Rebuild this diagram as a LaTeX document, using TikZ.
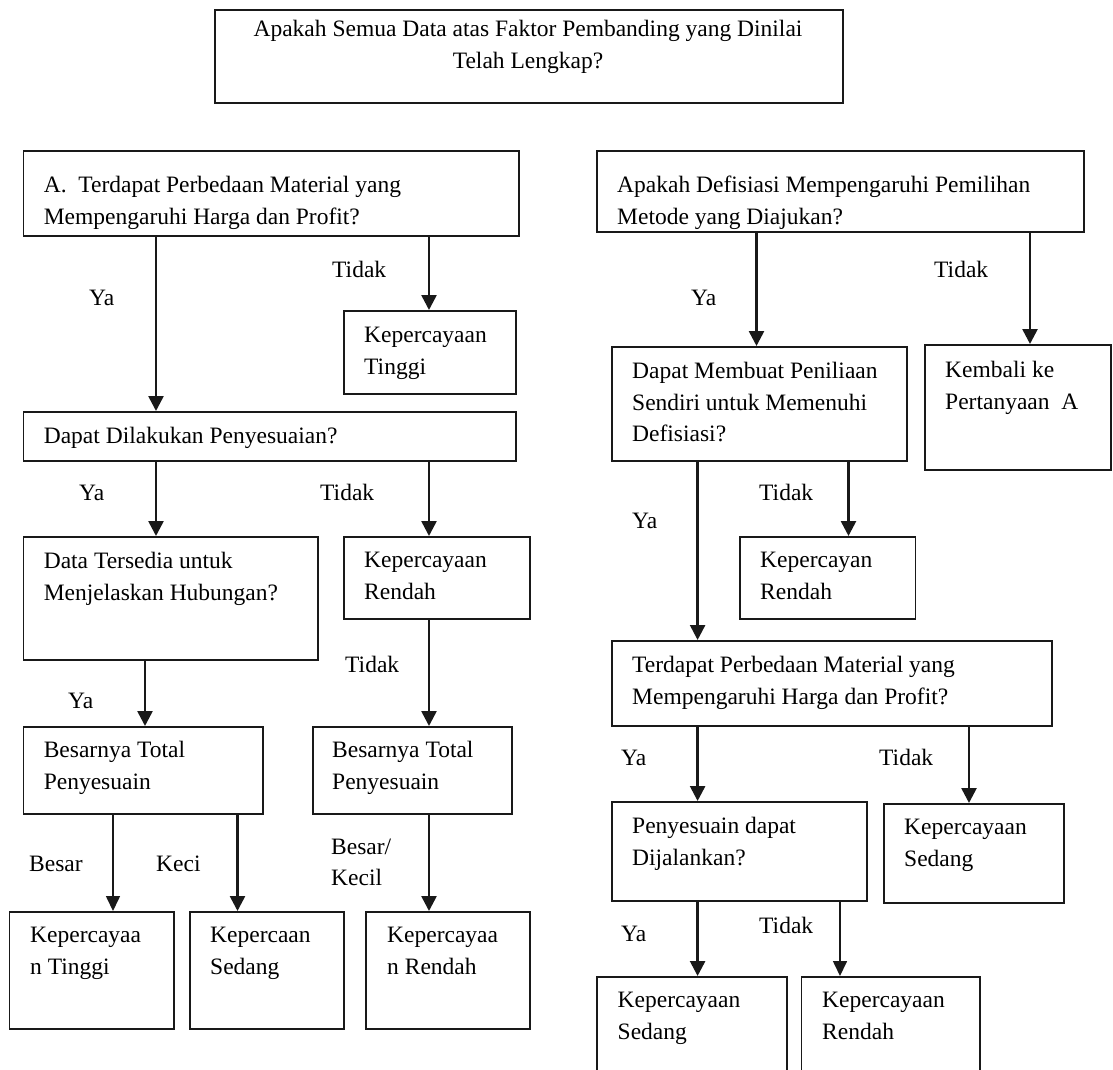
\documentclass[tikz,border=0pt]{standalone}
\usepackage{fontspec}
\setmainfont{Liberation Serif}
\usetikzlibrary{arrows.meta}
\begin{document}
\begin{tikzpicture}[x=1pt,y=-1pt,
  box/.style={draw=black!90, line width=1.7pt, rectangle, inner sep=0pt, anchor=north west},
  txt/.style={inner sep=0pt, anchor=north west, align=left, font=\fontsize{23.5}{31.6}\selectfont},
  lbl/.style={inner sep=0pt, anchor=base west, font=\fontsize{23.5}{31.6}\selectfont},
  arr/.style={draw=black!90, line width=2.6pt, -{Triangle[width=15pt,length=15pt]}},
  tarr/.style={draw=black!90, line width=1.6pt, -{Triangle[width=14pt,length=15pt]}}]
\useasboundingbox (0,0) rectangle (1113,1070);
\clip (0,0) rectangle (1113,1070);

% boxes
\node[box, minimum width=628pt, minimum height=93pt] (T) at (214,9) {};
\node[box, minimum width=495.5pt, minimum height=85pt] (A) at (22.5,150) {};
\node[box, minimum width=172pt, minimum height=83pt] (KT) at (343,310) {};
\node[box, minimum width=492.5pt, minimum height=49pt] (D1) at (22.5,411) {};
\node[box, minimum width=294.5pt, minimum height=123pt] (DT) at (22.5,536) {};
\node[box, minimum width=186pt, minimum height=82pt] (KR1) at (343,536) {};
\node[box, minimum width=239.5pt, minimum height=87pt] (B1) at (22.5,726) {};
\node[box, minimum width=199pt, minimum height=87pt] (B2) at (312,726) {};
\node[box, minimum width=164.4pt, minimum height=117pt] (L1) at (8.6,911) {};
\node[box, minimum width=154pt, minimum height=117pt] (L2) at (189,911) {};
\node[box, minimum width=164pt, minimum height=117pt] (L3) at (365,911) {};
\node[box, minimum width=487pt, minimum height=81pt] (R) at (596,150) {};
\node[box, minimum width=295pt, minimum height=114pt] (DM) at (611,346) {};
\node[box, minimum width=186pt, minimum height=125pt] (KB) at (924,344) {};
\node[box, minimum width=175.5pt, minimum height=82pt] (KR2) at (739,536) {};
\node[box, minimum width=440pt, minimum height=85pt] (TP) at (611,640) {};
\node[box, minimum width=255pt, minimum height=99pt] (PD) at (611,801) {};
\node[box, minimum width=180pt, minimum height=99pt] (KS) at (883,803) {};
\node[box, minimum width=190pt, minimum height=110pt] (BS) at (596,976) {};
\node[box, minimum width=178.5pt, minimum height=110pt] (BR) at (800.5,976) {};

% box texts
\node[txt, anchor=north, align=center] (tT) at (528,20.2) {Apakah Semua Data atas Faktor Pembanding yang Dinilai\\Telah Lengkap?};
\node[txt] (tA) at (43.6,176.2) {A.\ \ Terdapat Perbedaan Material yang\\Mempengaruhi Harga dan Profit?};
\node[txt] (tKT) at (364,327.2) {Kepercayaan\\Tinggi};
\node[txt] (tD1) at (43.6,427.2) {Dapat Dilakukan Penyesuaian?};
\node[txt] (tDT) at (43.6,552.2) {Data Tersedia untuk\\Menjelaskan Hubungan?};
\node[txt] (tKR1) at (364,552.2) {Kepercayaan\\Rendah};
\node[txt] (tB1) at (43.6,741.2) {Besarnya Total\\Penyesuain};
\node[txt] (tB2) at (332,741.2) {Besarnya Total\\Penyesuain};
\node[txt] (tL1) at (30,927.2) {Kepercayaa\\n Tinggi};
\node[txt] (tL2) at (210,927.2) {Kepercaan\\Sedang};
\node[txt] (tL3) at (387,927.2) {Kepercayaa\\n Rendah};
\node[txt] (tR) at (617,176.2) {Apakah Defisiasi Mempengaruhi Pemilihan\\Metode yang Diajukan?};
\node[txt] (tDM) at (632,362.2) {Dapat Membuat Peniliaan\\Sendiri untuk Memenuhi\\Defisiasi?};
\node[txt] (tKB) at (945,361.2) {Kembali ke\\Pertanyaan\ \ A};
\node[txt] (tKR2) at (760,552.2) {Kepercayan\\Rendah};
\node[txt] (tTP) at (632,656.2) {Terdapat Perbedaan Material yang\\Mempengaruhi Harga dan Profit?};
\node[txt] (tPD) at (632,817.2) {Penyesuain dapat\\Dijalankan?};
\node[txt] (tKS) at (904,819.2) {Kepercayaan\\Sedang};
\node[txt] (tBS) at (617.5,992.2) {Kepercayaan\\Sedang};
\node[txt] (tBR) at (822,992.2) {Kepercayaan\\Rendah};

% connectors left
\draw[arr] (156,0 |- A.south) -- (156,0 |- D1.north);
\draw[arr] (429,0 |- A.south) -- (429,0 |- KT.north);
\draw[arr] (156,0 |- D1.south) -- (156,0 |- DT.north);
\draw[arr] (429,0 |- D1.south) -- (429,0 |- KR1.north);
\draw[arr] (145,0 |- DT.south) -- (145,0 |- B1.north);
\draw[arr] (429,0 |- KR1.south) -- (429,0 |- B2.north);
\draw[tarr] (113,0 |- B1.south) -- (113,0 |- L1.north);
\draw[arr] (237.5,0 |- B1.south) -- (237.5,0 |- L2.north);
\draw[arr] (429,0 |- B2.south) -- (429,0 |- L3.north);
% connectors right
\draw[arr] (756.5,0 |- R.south) -- (756.5,0 |- DM.north);
\draw[arr] (1030,0 |- R.south) -- (1030,0 |- KB.north);
\draw[arr] (697.6,0 |- DM.south) -- (697.6,0 |- TP.north);
\draw[arr] (848.5,0 |- DM.south) -- (848.5,0 |- KR2.north);
\draw[arr] (697.6,0 |- TP.south) -- (697.6,0 |- PD.north);
\draw[arr] (969,0 |- TP.south) -- (969,0 |- KS.north);
\draw[arr] (697.6,0 |- PD.south) -- (697.6,0 |- BS.north);
\draw[tarr] (840,0 |- PD.south) -- (840,0 |- BR.north);

% labels
\node[lbl] (l1) at (89,305) {Ya};
\node[lbl] (l2) at (332,277) {Tidak};
\node[lbl] (l3) at (79,500) {Ya};
\node[lbl] (l4) at (320,500) {Tidak};
\node[lbl] (l5) at (68,708) {Ya};
\node[lbl] (l6) at (345,672) {Tidak};
\node[lbl] (l7) at (29,871) {Besar};
\node[lbl] (l8) at (156,871) {Keci};
\node[lbl] (l9) at (331,854) {Besar/};
\node[lbl] (l10) at (331,885) {Kecil};
\node[lbl] (r1) at (691,305) {Ya};
\node[lbl] (r2) at (934,277) {Tidak};
\node[lbl] (r3) at (759,500) {Tidak};
\node[lbl] (r4) at (632,528) {Ya};
\node[lbl] (r5) at (621,765) {Ya};
\node[lbl] (r6) at (879,765) {Tidak};
\node[lbl] (r7) at (621,941) {Ya};
\node[lbl] (r8) at (759,933) {Tidak};
\end{tikzpicture}
\end{document}
